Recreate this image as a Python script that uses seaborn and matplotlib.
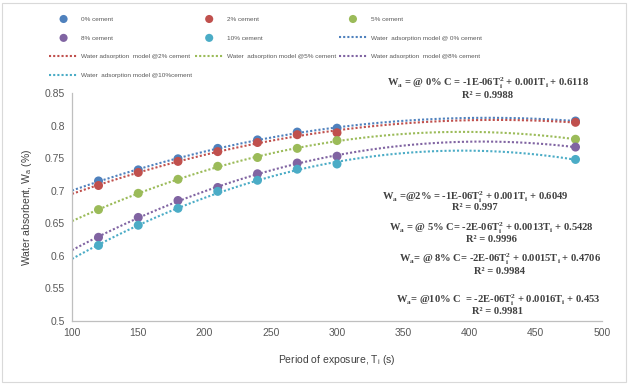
import matplotlib
matplotlib.use("Agg")
import matplotlib.pyplot as plt
import pandas as pd
import seaborn as sns
from matplotlib.patches import Rectangle

sns.set_theme(style="white")
plt.rcParams["font.family"] = ["Liberation Sans", "DejaVu Sans"]

# valores
tempo = [120, 150, 180, 210, 240, 270, 300, 480]
cim_0 = [0.715, 0.732, 0.749, 0.765, 0.778, 0.790, 0.796, 0.807]
cim_2 = [0.708, 0.728, 0.745, 0.760, 0.774, 0.786, 0.789, 0.805]
cim_5 = [0.671, 0.696, 0.7175, 0.7375, 0.751, 0.765, 0.777, 0.779]
cim_8 = [0.6285, 0.659, 0.685, 0.705, 0.726, 0.7425, 0.753, 0.767]
cim_10 = [0.616, 0.647, 0.673, 0.699, 0.716, 0.733, 0.741, 0.748]

series = [cim_0, cim_2, cim_5, cim_8, cim_10]
rotulos = ["0% cement", "2% cement", "5% cement", "8% cement", "10% cement"]
rotulos_modelo = [
    "Water  adsorption model @ 0% cement",
    "Water adsorption  model @2% cement",
    "Water  adsorption model @5% cement",
    "Water adsorption  model @8% cement",
    "Water  adsorption model @10%cement",
]
cores = ["#4F81BD", "#C0504D", "#9BBB59", "#8064A2", "#4BACC6"]

equacoes = [
    (r"W$\mathregular{_a}$ = @ 0% C = -1E-06T$\mathregular{_i^2}$ + 0.001T$\mathregular{_i}$ + 0.6118", "R² = 0.9988", 488, 83, 95),
    (r"W$\mathregular{_a}$ =@2% = -1E-06T$\mathregular{_i^2}$ + 0.001T$\mathregular{_i}$ + 0.6049", "R² = 0.997", 475, 197, 208),
    (r"W$\mathregular{_a}$ = @ 5% C= -2E-06T$\mathregular{_i^2}$ + 0.0013T$\mathregular{_i}$ + 0.5428", "R² = 0.9996", 491, 228, 240),
    (r"W$\mathregular{_a}$= @ 8% C= -2E-06T$\mathregular{_i^2}$ + 0.0015T$\mathregular{_i}$ + 0.4706", "R² = 0.9984", 500, 259, 271),
    (r"W$\mathregular{_a}$= @10% C  = -2E-06T$\mathregular{_i^2}$ + 0.0016T$\mathregular{_i}$ + 0.453", "R² = 0.9981", 498, 300, 312),
]

W, H = 629, 384
fig = plt.figure(figsize=(W / 100, H / 100), dpi=100)
ax = fig.add_axes([72 / W, 1 - 321 / H, (602 - 72) / W, (321 - 93) / H])

ax.set_xlim(100, 480)
handles_pts, handles_lin = [], []
for vals, rot, rot_m, cor in zip(series, rotulos, rotulos_modelo, cores):
    df = pd.DataFrame({"Tempo": tempo, "W": vals})
    sns.regplot(data=df, x="Tempo", y="W", order=2, ci=None, scatter=False,
                truncate=False, ax=ax,
                line_kws=dict(color=cor, lw=1.5, ls=(0, (1, 1)), zorder=2, label=rot_m))
    handles_lin.append(ax.lines[-1])
for vals, rot, cor in zip(series, rotulos, cores):
    df = pd.DataFrame({"Tempo": tempo, "W": vals})
    sns.scatterplot(data=df, x="Tempo", y="W", color=cor, s=42, edgecolor="none",
                    zorder=3, ax=ax, label=rot, legend=False)
    handles_pts.append(ax.collections[-1])

ax.set_xlim(100, 500)
ax.set_ylim(0.5, 0.85)
ax.set_xticks(range(100, 501, 50))
ax.set_yticks([0.5, 0.55, 0.6, 0.65, 0.7, 0.75, 0.8, 0.85])
ax.set_yticklabels(["0.5", "0.55", "0.6", "0.65", "0.7", "0.75", "0.8", "0.85"])
ax.tick_params(labelsize=7.5, colors="#595959", length=0, pad=5)
for lado in ["top", "right"]:
    ax.spines[lado].set_visible(False)
for lado in ["left", "bottom"]:
    ax.spines[lado].set_color("#BFBFBF")
    ax.spines[lado].set_linewidth(0.9)

ax.set_xlabel(r"Period of exposure, T$_{\mathregular{i}}$ (s)", fontsize=7.5, color="#404040", labelpad=11)
ax.set_ylabel(r"Water absorbent, W$_{\mathregular{a}}$ (%)", fontsize=7.5, color="#404040", labelpad=8)

for linha, r2, xc, y1, y2 in equacoes:
    fig.text(xc / W, 1 - y1 / H, linha, ha="center", va="center", fontsize=7.6,
             family="Liberation Serif", weight="bold", color="#404040")
    fig.text(xc / W, 1 - y2 / H, r2, ha="center", va="center", fontsize=7.6,
             family="Liberation Serif", weight="bold", color="#404040")

# legenda em ordem por linha, como no Excel
todos = handles_pts + handles_lin
nomes = rotulos + rotulos_modelo
ordem = [0, 3, 6, 9, 1, 4, 7, 2, 5, 8]
leg = fig.legend([todos[i] for i in ordem], [nomes[i] for i in ordem], ncol=3,
                 loc="upper left", bbox_to_anchor=(46 / W, 1 - 13 / H), frameon=False,
                 fontsize=4.6, handlelength=4.5, handletextpad=0.5, columnspacing=0.4,
                 labelspacing=2.1, borderpad=0, markerscale=0.9)
for t in leg.get_texts():
    t.set_color("#595959")

fig.patches.append(Rectangle((2 / W, 2 / H), 1 - 5 / W, 1 - 5 / H, transform=fig.transFigure,
                             fill=False, ec="#D9D9D9", lw=0.8))

fig.savefig("out.png", dpi=100)
